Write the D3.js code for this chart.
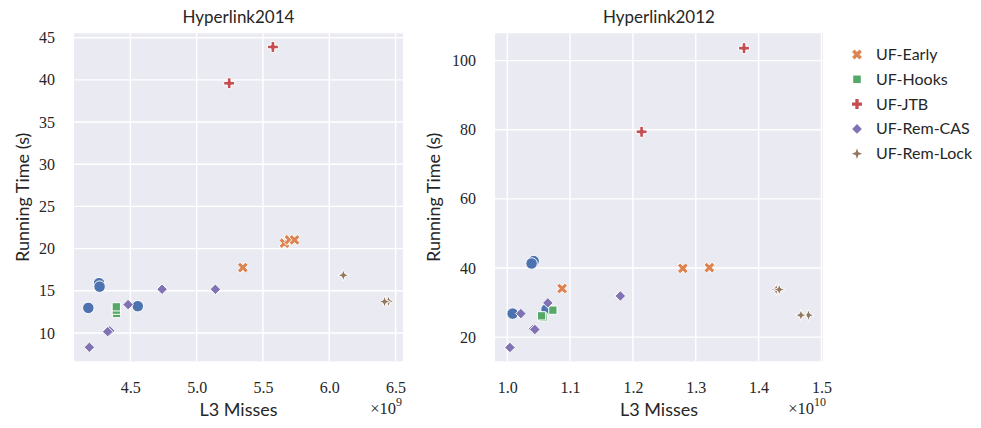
<!DOCTYPE html>
<html>
<head>
<meta charset="utf-8">
<script src="https://cdn.jsdelivr.net/npm/d3@7"></script>
<style>
  html, body { margin: 0; padding: 0; background: #ffffff; }
  svg { display: block; }
  .tick text { font-family: "Liberation Serif", "Times New Roman", serif !important; }
</style>
</head>
<body>
<svg id="chart" width="981" height="428"></svg>
<script>
// ---------------- DATA ----------------
const seriesNames = ["UF", "UF-Early", "UF-Hooks", "UF-JTB", "UF-Rem-CAS", "UF-Rem-Lock"];
const legendNames = ["UF-Early", "UF-Hooks", "UF-JTB", "UF-Rem-CAS", "UF-Rem-Lock"];
const seriesColors = ["#4C72B0", "#DD8452", "#55A868", "#C44E52", "#8172B3", "#937860"];
const seriesMarkers = ["circle", "x", "square", "plus", "diamond", "star"];

// Hyperlink2014: L3 misses (x 1e9), running time (s)
const h14_UF_x        = [4.264, 4.268, 4.183, 4.556];
const h14_UF_y        = [15.9, 15.49, 12.97, 13.17];
const h14_Early_x     = [5.662, 5.700, 5.738, 5.348];
const h14_Early_y     = [20.64, 21.05, 21.03, 17.75];
const h14_Hooks_x     = [4.396, 4.394, 4.394];
const h14_Hooks_y     = [12.30, 12.70, 13.10];
const h14_JTB_x       = [5.575, 5.245];
const h14_JTB_y       = [43.9, 39.6];
const h14_RemCAS_x    = [4.739, 5.141, 4.483, 4.345, 4.329, 4.191];
const h14_RemCAS_y    = [15.18, 15.18, 13.36, 10.25, 10.15, 8.30];
const h14_RemLock_x   = [6.106, 6.447, 6.417];
const h14_RemLock_y   = [16.84, 13.75, 13.71];

// Hyperlink2012: L3 misses (x 1e10), running time (s)
const h12_UF_x        = [1.042, 1.0387, 1.0086, 1.0625];
const h12_UF_y        = [42.0, 41.3, 26.8, 28.0];
const h12_Early_x     = [1.2794, 1.3217, 1.0873];
const h12_Early_y     = [39.9, 40.1, 34.05];
const h12_Hooks_x     = [1.057, 1.0546, 1.0726];
const h12_Hooks_y     = [25.8, 26.15, 27.8];
const h12_JTB_x       = [1.3768, 1.2138];
const h12_JTB_y       = [103.6, 79.4];
const h12_RemCAS_x    = [1.180, 1.0646, 1.0217, 1.0413, 1.044, 1.0043];
const h12_RemCAS_y    = [31.9, 29.9, 26.8, 22.3, 22.2, 17.0];
const h12_RemLock_x   = [1.428, 1.4329, 1.4794, 1.4673];
const h12_RemLock_y   = [33.76, 33.76, 26.35, 26.35];

const h14_xTicks = [4.5, 5.0, 5.5, 6.0, 6.5];
const h14_yTicks = [10, 15, 20, 25, 30, 35, 40, 45];
const h12_xTicks = [1.0, 1.1, 1.2, 1.3, 1.4, 1.5];
const h12_yTicks = [20, 40, 60, 80, 100];

const panelTitles = ["Hyperlink2014", "Hyperlink2012"];
const panelExponents = ["9", "10"];
const xLabel = "L3 Misses";
const yLabel = "Running Time (s)";

// ---------------- BUILD ----------------
const panels = [
  {
    title: panelTitles[0], exp: panelExponents[0],
    xDomain: [4.075, 6.556], yDomain: [6.64, 45.52],
    left: 74, right: 403, top: 33.3, bottom: 361.3, yLabelX: 29, offRight: 402,
    xTicks: h14_xTicks, yTicks: h14_yTicks, xFmt: d3.format(".1f"), yFmt: d3.format("d"),
    series: [
      [h14_UF_x, h14_UF_y], [h14_Early_x, h14_Early_y], [h14_Hooks_x, h14_Hooks_y],
      [h14_JTB_x, h14_JTB_y], [h14_RemCAS_x, h14_RemCAS_y], [h14_RemLock_x, h14_RemLock_y]
    ]
  },
  {
    title: panelTitles[1], exp: panelExponents[1],
    xDomain: [0.9805, 1.5025], yDomain: [13.0, 107.9],
    left: 495, right: 823, top: 33.3, bottom: 361.3, yLabelX: 440, offRight: 826,
    xTicks: h12_xTicks, yTicks: h12_yTicks, xFmt: d3.format(".1f"), yFmt: d3.format("d"),
    series: [
      [h12_UF_x, h12_UF_y], [h12_Early_x, h12_Early_y], [h12_Hooks_x, h12_Hooks_y],
      [h12_JTB_x, h12_JTB_y], [h12_RemCAS_x, h12_RemCAS_y], [h12_RemLock_x, h12_RemLock_y]
    ]
  }
];

function markerPath(type, s) {
  const r = s / 2;
  if (type === "circle") {
    const p = d3.path(); p.moveTo(r, 0); p.arc(0, 0, r, 0, 2 * Math.PI); p.closePath(); return p.toString();
  }
  if (type === "square") {
    const h = r * 0.72;
    return `M${-h},${-h}L${h},${-h}L${h},${h}L${-h},${h}Z`;
  }
  if (type === "diamond") {
    const h = r * 0.92;
    return `M0,${-h}L${h},0L0,${h}L${-h},0Z`;
  }
  if (type === "plus" || type === "x") {
    const a = r * (type === "x" ? 1.0 : 0.95), w = a / 3;
    const pts = [[-w,-a],[w,-a],[w,-w],[a,-w],[a,w],[w,w],[w,a],[-w,a],[-w,w],[-a,w],[-a,-w],[-w,-w]];
    const ang = type === "x" ? Math.PI / 4 : 0;
    const c = Math.cos(ang), sn = Math.sin(ang);
    return "M" + pts.map(([x, y]) => `${(x * c - y * sn).toFixed(2)},${(x * sn + y * c).toFixed(2)}`).join("L") + "Z";
  }
  if (type === "star") {
    const R = r, ri = r * 0.381966;
    const pts = [];
    for (let i = 0; i < 8; i++) {
      const ang = -Math.PI / 2 + i * Math.PI / 4;
      const rr = i % 2 === 0 ? R : ri;
      pts.push([rr * Math.cos(ang), rr * Math.sin(ang)]);
    }
    return "M" + pts.map(p => p.map(v => v.toFixed(2)).join(",")).join("L") + "Z";
  }
  return "";
}

const svg = d3.select("#chart");
const tickFont = "'Liberation Serif', 'Times New Roman', serif";
const sansFont = "Lato, 'Open Sans', sans-serif";
const markerSize = 11.5;

panels.forEach((p) => {
  const x = d3.scaleLinear().domain(p.xDomain).range([p.left, p.right]);
  const y = d3.scaleLinear().domain(p.yDomain).range([p.bottom, p.top]);
  const g = svg.append("g");

  g.append("rect")
    .attr("x", p.left).attr("y", p.top)
    .attr("width", p.right - p.left).attr("height", p.bottom - p.top)
    .attr("fill", "#EAEAF2");

  g.selectAll(".gx").data(p.xTicks).join("line")
    .attr("x1", d => x(d)).attr("x2", d => x(d))
    .attr("y1", p.top).attr("y2", p.bottom)
    .attr("stroke", "#ffffff").attr("stroke-width", 1.4);
  g.selectAll(".gy").data(p.yTicks).join("line")
    .attr("x1", p.left).attr("x2", p.right)
    .attr("y1", d => y(d)).attr("y2", d => y(d))
    .attr("stroke", "#ffffff").attr("stroke-width", 1.4);

  const xAxis = d3.axisBottom(x).tickValues(p.xTicks).tickFormat(p.xFmt).tickSize(0).tickPadding(20);
  const yAxis = d3.axisLeft(y).tickValues(p.yTicks).tickFormat(p.yFmt).tickSize(0).tickPadding(19);
  const gx = g.append("g").attr("transform", `translate(0,${p.bottom})`).call(xAxis);
  const gy = g.append("g").attr("transform", `translate(${p.left},0)`).call(yAxis);
  [gx, gy].forEach(a => {
    a.select(".domain").remove();
    a.attr("font-family", tickFont).attr("font-size", 16);
    a.selectAll("text").style("font-family", tickFont).style("font-size", "16px").attr("fill", "#262626");
  });

  p.series.forEach(([xs, ys], si) => {
    const pts = xs.map((v, i) => [v, ys[i]]);
    g.append("g").selectAll("path").data(pts).join("path")
      .attr("d", markerPath(seriesMarkers[si], markerSize))
      .attr("transform", d => `translate(${x(d[0])},${y(d[1])})`)
      .attr("fill", seriesColors[si])
      .attr("stroke", "#ffffff").attr("stroke-width", 1);
  });

  const cx = (p.left + p.right) / 2;
  g.append("text").attr("x", cx).attr("y", 23)
    .attr("text-anchor", "middle").style("font-family", sansFont).style("font-size", "17px")
    .attr("fill", "#262626").text(p.title);

  g.append("text").attr("x", cx).attr("y", 416)
    .attr("text-anchor", "middle").style("font-family", sansFont).style("font-size", "18px")
    .attr("fill", "#262626").text(xLabel);

  g.append("text")
    .attr("transform", `translate(${p.yLabelX},${(p.top + p.bottom) / 2}) rotate(-90)`)
    .attr("text-anchor", "middle").style("font-family", sansFont).style("font-size", "18px")
    .attr("fill", "#262626").text(yLabel);

  const off = g.append("text").attr("x", p.offRight).attr("y", 414)
    .attr("text-anchor", "end").style("font-family", tickFont).style("font-size", "16.5px")
    .attr("fill", "#262626");
  off.append("tspan").text("\u00D710");
  off.append("tspan").attr("dy", -8).style("font-size", "12px").text(p.exp);
});

const leg = svg.append("g");
legendNames.forEach((name, i) => {
  const si = seriesNames.indexOf(name);
  const yy = 54.5 + i * 24.8;
  leg.append("path").attr("d", markerPath(seriesMarkers[si], 10.5))
    .attr("transform", `translate(857,${yy})`)
    .attr("fill", seriesColors[si]).attr("stroke", "none");
  leg.append("text").attr("x", 876).attr("y", yy + 5.5)
    .style("font-family", sansFont).style("font-size", "16px").attr("fill", "#262626").text(name);
});
</script>
</body>
</html>
